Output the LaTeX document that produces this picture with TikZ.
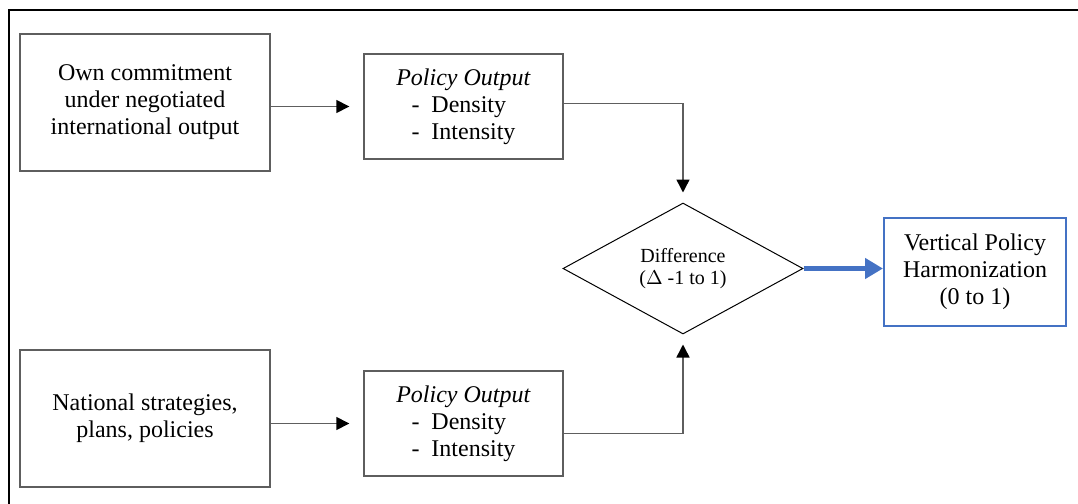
\documentclass[tikz,border=0pt]{standalone}
\usepackage{fontspec}
\setmainfont{Liberation Serif}
\usepackage{calc}
\usetikzlibrary{arrows.meta,shapes.geometric}

\definecolor{boxgray}{HTML}{5E5E5E}
\definecolor{harmblue}{HTML}{4472C4}

\tikzset{
	box/.style={draw=boxgray, line width=0.7pt, align=center, inner sep=0pt,
		font=\fontsize{12}{13.5}\selectfont},
	inbox/.style={box, minimum width=125pt, minimum height=68.5pt},
	outbox/.style={box, minimum width=99.5pt, minimum height=52.5pt},
	decision/.style={diamond, draw=black, line width=0.5pt, align=center, inner sep=0pt,
		minimum width=120pt, minimum height=65.5pt, font=\fontsize{10}{11}\selectfont},
	link/.style={draw=boxgray, line width=0.75pt, -{Triangle[length=6.5pt,width=6.5pt,color=black]}},
}

\newcommand{\outlist}{\textit{Policy Output}\\
	\makebox[\widthof{-\enspace Intensity}][l]{-\enspace Density}\\
	-\enspace Intensity}

\begin{document}
\begin{tikzpicture}[x=0.5pt, y=-0.5pt]
	\useasboundingbox (0,0) rectangle (1078,504);
	% frame (cut at right and bottom)
	\draw[line width=1pt] (1078,10) -- (9,10) -- (9,504);
	
	\node[inbox] (commit) at (145,102.5) {Own commitment\\under negotiated\\international output};
	\node[inbox] (national) at (145,418.5) {National strategies,\\plans, policies};
	\node[outbox] (outtop) at (463.5,106.5) {\outlist};
	\node[outbox] (outbot) at (463.5,423.5) {\outlist};
	\node[decision] (diff) at (683,268.5) {Difference\\($\Delta$ -1 to 1)};
	\node[box, draw=harmblue, line width=1pt, minimum width=91pt, minimum height=54pt]
		(harm) at (975,272) {Vertical Policy\\Harmonization\\(0 to 1)};
	
	\draw[link, shorten >=7pt] (commit.east |- outtop.west) -- (outtop.west);
	\draw[link, shorten >=7pt] (national.east |- outbot.west) -- (outbot.west);
	\draw[link, shorten >=5pt] ([yshift=1.5pt]outtop.east) -| (diff.north);
	\draw[link, shorten >=5pt] ([yshift=-5pt]outbot.east) -| (diff.south);
	\draw[harmblue, line width=2.5pt, -{Triangle[length=9pt,width=10pt]}] (diff.east) -- (diff.east -| harm.west);
	
\end{tikzpicture}
\end{document}
